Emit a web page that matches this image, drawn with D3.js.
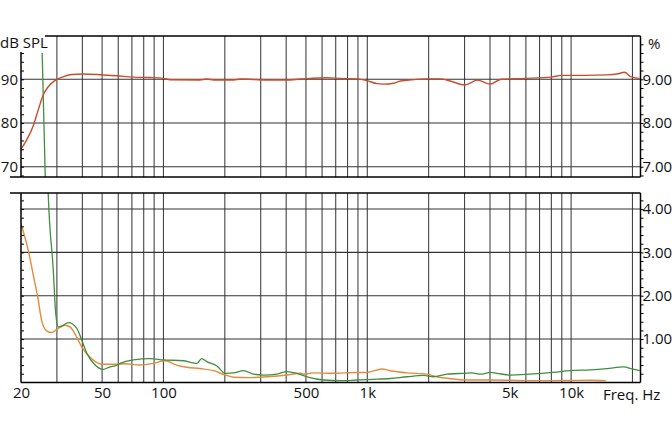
<!DOCTYPE html>
<html>
<head>
<meta charset="utf-8">
<script src="https://cdn.jsdelivr.net/npm/d3@7"></script>
<style>
  body { margin: 0; background: #fff; }
  svg text { font-family: "Open Sans", sans-serif; font-size: 15px; fill: #111; }
</style>
</head>
<body>
<script>
// frequency response, dB SPL
var splData = [
  [20, 74.0], [21.3, 76.1], [22.9, 79.2], [24.3, 83.0], [25.7, 86.4], [27.2, 88.3],
  [29.3, 89.7], [32.4, 90.6], [35.5, 91.1], [40.5, 91.2], [48.9, 91.05], [59, 90.8],
  [71.2, 90.5], [86, 90.4], [100, 90.2], [108, 89.9], [151, 89.85], [163, 90.05],
  [176, 89.85], [221, 89.85], [238, 90.05], [322, 89.85], [403, 89.85], [469, 90.05],
  [635, 90.35], [738, 90.2], [889, 90.1], [996, 89.7], [1116, 89.0], [1201, 88.9],
  [1347, 89.1], [1455, 89.6], [1567, 89.75], [1966, 90.1], [2288, 90.1], [2555, 89.6],
  [3008, 88.7], [3474, 89.8], [4009, 88.9], [4530, 90.0], [5902, 90.2], [8000, 90.5],
  [8966, 90.9], [11700, 90.9], [14980, 91.0], [16800, 91.2], [18270, 91.6],
  [19570, 90.6], [21600, 90.2]
];

// distortion, % (green)
var thdGreen = [
  [25.4, 9.6], [26.3, 6.8], [27.2, 4.36], [28.8, 2.59], [29.6, 1.59], [30.5, 1.28],
  [31.6, 1.30], [34.2, 1.38], [37.5, 1.25], [39.7, 0.98], [42.1, 0.67], [46.2, 0.40],
  [50.7, 0.30], [54.7, 0.36], [57.9, 0.38], [61.3, 0.44], [71.2, 0.52], [86, 0.55],
  [100, 0.52], [125, 0.50], [140, 0.45], [146, 0.44], [154, 0.55], [163, 0.48],
  [183, 0.38], [201, 0.21], [221, 0.22], [247, 0.27], [277, 0.19], [310, 0.17],
  [360, 0.19], [403, 0.25], [451, 0.21], [506, 0.13], [611, 0.055], [738, 0.04],
  [889, 0.055], [1073, 0.07], [1297, 0.09], [1567, 0.13], [1893, 0.16], [2111, 0.13],
  [2462, 0.19], [2971, 0.21], [3268, 0.22], [3591, 0.19], [4027, 0.23], [4324, 0.21],
  [5000, 0.17], [6254, 0.19], [8167, 0.23], [9873, 0.27], [12390, 0.29], [14980, 0.32],
  [18120, 0.36], [19930, 0.31], [21720, 0.27]
];

// distortion, % (orange)
var thdOrange = [
  [20, 3.66], [21.7, 3.05], [22.9, 2.51], [24.3, 1.90], [25.2, 1.45], [26.7, 1.19],
  [28.3, 1.15], [29.9, 1.22], [32.9, 1.32], [34.8, 1.28], [37.5, 1.05], [39.7, 0.82],
  [44.3, 0.55], [49.7, 0.42], [59, 0.42], [64.4, 0.43], [76.8, 0.40], [89.3, 0.44],
  [102, 0.50], [116, 0.40], [130, 0.35], [151, 0.32], [176, 0.27], [201, 0.17],
  [221, 0.12], [267, 0.11], [322, 0.13], [403, 0.17], [469, 0.21], [487, 0.19],
  [546, 0.22], [684, 0.21], [889, 0.23], [996, 0.23], [1181, 0.31], [1297, 0.27],
  [1567, 0.22], [1966, 0.19], [2193, 0.13], [2555, 0.085], [3088, 0.055], [4027, 0.055],
  [5000, 0.05], [6254, 0.04], [8167, 0.04], [10000, 0.045], [12390, 0.05], [14800, 0.04]
];

var gridFreqs = [30, 40, 50, 60, 70, 80, 90, 100, 200, 300, 400, 500, 600, 700, 800, 900,
  1000, 2000, 3000, 4000, 5000, 6000, 7000, 8000, 9000, 10000, 20000];
var freqTicks = [20, 50, 100, 500, 1000, 5000, 10000];
var freqLabels = ["20", "50", "100", "500", "1k", "5k", "10k"];
var splTicks = [70, 80, 90];
var pctTopTicks = [7, 8, 9];
var pctBottomTicks = [1, 2, 3, 4];

var width = 672, height = 440;
var svg = d3.select("body").append("svg")
  .attr("width", width)
  .attr("height", height);

var left = 21, right = 640.5;
var topY0 = 36, topY1 = 177;   // upper panel
var botY0 = 193, botY1 = 382.4; // lower panel

var x = d3.scaleLog().domain([20, 21900]).range([left, right]);
var ySpl = d3.scaleLinear().domain([67.65, 99.9]).range([topY1, topY0]);
var yPctTop = d3.scaleLinear().domain([6.765, 9.99]).range([topY1, topY0]);
var yPct = d3.scaleLinear().domain([0, 4.37]).range([botY1, botY0]);

// clip paths
var defs = svg.append("defs");
defs.append("clipPath").attr("id", "clipTop").append("rect")
  .attr("x", left).attr("y", topY0).attr("width", right - left).attr("height", topY1 - topY0);
defs.append("clipPath").attr("id", "clipBot").append("rect")
  .attr("x", left).attr("y", botY0).attr("width", right - left).attr("height", botY1 - botY0);

function vgrid(y0, y1) {
  svg.append("g").selectAll("line")
    .data(gridFreqs).enter().append("line")
    .attr("x1", d => x(d)).attr("x2", d => x(d))
    .attr("y1", y0).attr("y2", y1)
    .attr("stroke", "#444").attr("stroke-width", 1.1);
}
vgrid(topY0, topY1);
vgrid(botY0, botY1);

// horizontal grid
svg.append("g").selectAll("line").data(splTicks).enter().append("line")
  .attr("x1", left).attr("x2", right)
  .attr("y1", d => ySpl(d)).attr("y2", d => ySpl(d))
  .attr("stroke", "#333").attr("stroke-width", 1.1);
svg.append("g").selectAll("line").data(pctBottomTicks).enter().append("line")
  .attr("x1", left).attr("x2", right)
  .attr("y1", d => yPct(d)).attr("y2", d => yPct(d))
  .attr("stroke", "#333").attr("stroke-width", 1.1);

// curves
var curve = d3.curveMonotoneX;
var lineTop = d3.line().curve(curve).x(d => x(d[0])).y(d => ySpl(d[1]));
var lineTopPct = d3.line().curve(curve).x(d => x(d[0])).y(d => yPctTop(d[1]));
var lineBot = d3.line().curve(curve).x(d => x(d[0])).y(d => yPct(d[1]));

svg.append("path").datum(thdGreen)
  .attr("clip-path", "url(#clipTop)")
  .attr("d", lineTopPct).attr("fill", "none")
  .attr("stroke", "#3f8f3f").attr("stroke-width", 1.3);
svg.append("path").datum(splData)
  .attr("clip-path", "url(#clipTop)")
  .attr("d", lineTop).attr("fill", "none")
  .attr("stroke", "#cc4b2c").attr("stroke-width", 1.4);

svg.append("path").datum(thdOrange)
  .attr("clip-path", "url(#clipBot)")
  .attr("d", lineBot).attr("fill", "none")
  .attr("stroke", "#e38b3b").attr("stroke-width", 1.4);
svg.append("path").datum(thdGreen)
  .attr("clip-path", "url(#clipBot)")
  .attr("d", lineBot).attr("fill", "none")
  .attr("stroke", "#3f8f3f").attr("stroke-width", 1.3);

// frame lines
function hline(x1, x2, y) {
  svg.append("line").attr("x1", x1).attr("x2", x2).attr("y1", y).attr("y2", y)
    .attr("stroke", "#000").attr("stroke-width", 1.5);
}
function vline(xx, y1, y2) {
  svg.append("line").attr("x1", xx).attr("x2", xx).attr("y1", y1).attr("y2", y2)
    .attr("stroke", "#000").attr("stroke-width", 1.5);
}
hline(45, right, topY0);
hline(10, right, topY1);
hline(10, right, botY0);
hline(left, right, botY1);
vline(left, 52, topY1);
vline(right, topY0, topY1);
vline(left, botY0, botY1);
vline(right, botY0, botY1);

// minor ticks
var splMinor = d3.range(68, 99, 2);
var pctTopMinor = d3.range(6.8, 9.99, 0.2);
var pctBotMinor = d3.range(0.2, 4.37, 0.2);

svg.append("g").attr("transform", "translate(" + left + ",0)")
  .call(d3.axisRight(ySpl).tickValues(splMinor.filter(v => ySpl(v) > 52)).tickSize(3).tickFormat(""))
  .call(g => g.select(".domain").remove());
svg.append("g").attr("transform", "translate(" + left + ",0)")
  .call(d3.axisRight(yPct).tickValues(pctBotMinor).tickSize(3).tickFormat(""))
  .call(g => g.select(".domain").remove());
svg.append("g").attr("transform", "translate(" + right + ",0)")
  .call(d3.axisRight(yPctTop).tickValues(pctTopMinor).tickSize(3).tickFormat(""))
  .call(g => g.select(".domain").remove());
svg.append("g").attr("transform", "translate(" + right + ",0)")
  .call(d3.axisRight(yPct).tickValues(pctBotMinor).tickSize(3).tickFormat(""))
  .call(g => g.select(".domain").remove());

// labels
svg.append("g").attr("transform", "translate(" + left + ",0)")
  .call(d3.axisLeft(ySpl).tickValues(splTicks).tickSize(0).tickPadding(3))
  .call(g => g.select(".domain").remove())
  .selectAll("text").attr("font-size", null).attr("font-family", null);
svg.append("g").attr("transform", "translate(" + right + ",0)")
  .call(d3.axisRight(yPctTop).tickValues(pctTopTicks).tickSize(0).tickPadding(2)
    .tickFormat(d3.format(".2f")))
  .call(g => g.select(".domain").remove())
  .selectAll("text").attr("font-size", null).attr("font-family", null);
svg.append("g").attr("transform", "translate(" + right + ",0)")
  .call(d3.axisRight(yPct).tickValues(pctBottomTicks).tickSize(0).tickPadding(2)
    .tickFormat(d3.format(".2f")))
  .call(g => g.select(".domain").remove())
  .selectAll("text").attr("font-size", null).attr("font-family", null);

svg.append("g").attr("transform", "translate(0," + botY1 + ")")
  .call(d3.axisBottom(x).tickValues(freqTicks).tickSize(0).tickPadding(5)
    .tickFormat((d, i) => freqLabels[i]))
  .call(g => g.select(".domain").remove())
  .selectAll("text").attr("font-size", null).attr("font-family", null);

svg.append("text").attr("x", 0).attr("y", 47.5).text("dB SPL");
svg.append("text").attr("x", 648).attr("y", 49).text("%");
svg.append("text").attr("x", 603).attr("y", 400).text("Freq. Hz");
</script>
</body>
</html>
